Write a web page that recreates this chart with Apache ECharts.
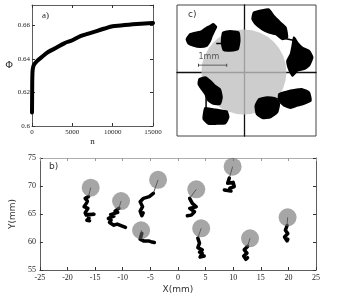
<!DOCTYPE html>
<html><head><meta charset="utf-8">
<script src="https://cdn.jsdelivr.net/npm/echarts@6/dist/echarts.min.js"></script>
<style>html,body{margin:0;padding:0;background:#fff}#c{width:337px;height:296px}</style>
</head><body><div id="c"></div>
<script>
// Panel a: packing fraction vs n
const aN   = [0, 30, 60, 100, 200, 400, 700, 1200, 2000, 3000, 4000, 5000, 6000, 7000, 8000, 9000, 10000, 11000, 12000, 13000, 14000, 15000];
const aPhi = [0.608, 0.626, 0.632, 0.634, 0.636, 0.6375, 0.639, 0.641, 0.644, 0.6465, 0.6492, 0.651, 0.6535, 0.655, 0.6565, 0.658, 0.6594, 0.6598, 0.6603, 0.6607, 0.661, 0.6613];

// Panel b: disc positions (mm) and trajectories
const bCircles = [[-15.8,69.7],[-10.3,67.3],[-3.6,71.1],[-6.67,62.1],[3.32,69.4],[4.21,62.45],[9.9,73.45],[13.05,60.66],[19.86,64.4]];
const bTrack1 = [[-16.2,68.1],[-16.8,67.8],[-16.4,67.3],[-16.6,66.9],[-17.0,66.3],[-16.3,66.0],[-16.4,65.7],[-16.8,65.2],[-16.6,64.8],[-15.2,64.95],[-16.3,64.9],[-16.1,64.2],[-16.5,63.9],[-16.4,63.6],[-16.0,63.8]];
const bTrack2 = [[-10.7,66.0],[-11.4,65.5],[-10.9,65.3],[-12.2,64.9],[-11.6,64.6],[-12.6,64.2],[-12.1,63.9],[-12.4,63.5],[-11.6,63.0],[-11.0,63.2],[-10.7,62.9],[-9.5,62.6]];
const bTrack3 = [[-4.45,68.7],[-5.2,68.1],[-6.24,67.8],[-6.85,67.2],[-6.4,66.3],[-6.85,65.5],[-6.54,64.7],[-6.3,65.2]];
const bTrack4 = [[-6.54,61.55],[-6.2,61.2],[-6.85,60.5],[-6.24,60.2],[-5.34,60.2],[-4.9,60.05],[-4.27,59.9]];
const bTrack5 = [[2.12,67.8],[2.6,66.9],[3.32,66.3],[2.12,66.0],[3.0,65.4],[2.42,64.8],[1.7,64.7]];
const bTrack6 = [[3.6,60.7],[3.9,59.8],[3.6,59.0],[4.4,58.6],[3.9,58.2],[4.4,58.0],[4.0,57.3],[4.75,57.5]];
const bTrack7 = [[9.3,71.4],[9.0,70.5],[10.0,70.65],[10.2,69.9],[9.4,69.6],[9.6,69.1],[8.4,69.3]];
const bTrack8 = [[12.6,59.2],[12.0,58.6],[12.5,58.0],[11.9,57.5],[12.3,56.9],[12.6,57.2]];
const bTrack9 = [[19.75,62.9],[19.45,62.1],[19.9,61.5],[19.3,60.9],[19.75,60.2],[19.9,60.5]];
const bTracks = [bTrack1,bTrack2,bTrack3,bTrack4,bTrack5,bTrack6,bTrack7,bTrack8,bTrack9];

// Panel c: trajectory clouds around a disc (mm, centred on the cross) — outlines
const cDisc = [[0, 0]];
const cScaleBar = [[-1.56,0.24],[-0.59,0.24]];
const cScaleLabelPos = [[-1.56,0.52]];
const cBlobA1 = [[-1.97,1.14],[-1.85,1.31],[-1.62,1.37],[-1.45,1.42],[-1.28,1.54],[-1.16,1.60],[-1.05,1.66],[-0.95,1.56],[-1.02,1.42],[-1.10,1.25],[-1.16,1.08],[-1.28,0.91],[-1.51,0.87],[-1.73,0.91],[-1.91,0.99]];
const cBlobA2 = [[-0.72,1.37],[-0.47,1.42],[-0.18,1.37],[-0.15,1.08],[-0.21,0.79],[-0.47,0.74],[-0.70,0.76],[-0.76,1.02]];
const cBlobB1 = [[0.34,2.06],[0.63,2.14],[0.86,2.17],[1.03,1.94],[1.26,1.71],[1.44,1.54],[1.49,1.20],[1.32,1.14],[1.09,1.31],[0.86,1.37],[0.63,1.48],[0.40,1.66],[0.29,1.83]];
const cBlobB2 = [[1.72,1.20],[1.84,1.02],[2.01,0.85],[2.24,0.74],[2.36,0.51],[2.24,0.22],[2.07,0.10],[1.84,0.05],[1.67,-0.13],[1.55,0.10],[1.49,0.39],[1.61,0.62],[1.67,0.91]];
const cBlobC1 = [[-1.53,-0.24],[-1.33,-0.18],[-1.16,-0.30],[-0.99,-0.47],[-0.82,-0.59],[-0.76,-0.87],[-0.82,-1.10],[-1.05,-1.10],[-1.22,-0.99],[-1.33,-0.76],[-1.45,-0.59],[-1.56,-0.41]];
const cBlobC2 = [[-1.33,-1.24],[-1.10,-1.28],[-0.87,-1.31],[-0.59,-1.36],[-0.53,-1.56],[-0.64,-1.77],[-0.93,-1.79],[-1.22,-1.79],[-1.39,-1.62],[-1.37,-1.39]];
const cBlobD1 = [[0.52,-0.93],[0.80,-0.87],[1.09,-0.91],[1.21,-1.10],[1.15,-1.39],[0.92,-1.56],[0.63,-1.59],[0.44,-1.45],[0.40,-1.16]];
const cBlobD2 = [[1.21,-0.76],[1.49,-0.67],[1.72,-0.62],[2.01,-0.59],[2.24,-0.70],[2.30,-0.99],[2.07,-1.10],[1.84,-1.16],[1.61,-1.24],[1.38,-1.16],[1.21,-0.99]];
const cBlobs = [cBlobA1,cBlobA2,cBlobB1,cBlobB2,cBlobC1,cBlobC2,cBlobD1,cBlobD2];
// thin links between neighbouring clouds
const cLinks = [[[-0.95,0.99],[-0.72,0.99]], [[1.40,1.16],[1.70,1.10]], [[-1.30,-0.80],[-1.30,-1.25]], [[1.10,-0.95],[1.30,-0.85]]];

const serif = 'Liberation Serif';
const axCol = '#333';
const plain = v => String(v);
function mirrorX(gi, min, max, interval, col){
  return {gridIndex:gi, type:'value', position:'top', min, max, interval,
    axisLine:{show:true, onZero:false, lineStyle:{color:col||axCol, width:0.8}},
    axisTick:{show:true, inside:true, length:3, lineStyle:{color:col||axCol}},
    axisLabel:{show:false}, splitLine:{show:false}};
}
function mirrorY(gi, min, max, interval){
  return {gridIndex:gi, type:'value', position:'right', min, max, interval,
    axisLine:{show:true, onZero:false, lineStyle:{color:axCol, width:0.8}},
    axisTick:{show:true, inside:true, length:3, lineStyle:{color:axCol}},
    axisLabel:{show:false}, splitLine:{show:false}};
}

const series = [];
// a
series.push({type:'line', xAxisIndex:0, yAxisIndex:0, data:aN.map((n,i)=>[n,aPhi[i]]),
  showSymbol:false, smooth:0.3, lineStyle:{color:'#000', width:4, cap:'round', join:'round'}, silent:true});
// b tracks
bTracks.forEach((t,i)=>{
  series.push({type:'line', xAxisIndex:2, yAxisIndex:2, data:t, showSymbol:false,
    lineStyle:{color:'#000', width:3.5, join:'round', cap:'round'}, silent:true, z:2});
  series.push({type:'line', xAxisIndex:2, yAxisIndex:2, data:[bCircles[i], t[0]], showSymbol:false,
    lineStyle:{color:'#222', width:0.8}, silent:true, z:3});
});
series.push({type:'scatter', xAxisIndex:2, yAxisIndex:2, data:bCircles, symbolSize:18, clip:false,
  itemStyle:{color:'rgba(100,100,100,0.72)'}, silent:true, z:4});
// c
series.push({type:'scatter', xAxisIndex:4, yAxisIndex:4, data:cDisc, symbolSize:85,
  itemStyle:{color:'#c0c0c0'}, silent:true, z:1});
cBlobs.forEach(bl=>{
  series.push({type:'custom', xAxisIndex:4, yAxisIndex:4, data:bl, silent:true, z:3,
    renderItem:(params, api)=>{
      if (params.dataIndex !== 0) return null;
      const pts = bl.map(p=>api.coord(p));
      return {type:'polygon', shape:{points:pts, smooth:0.15},
        style:{fill:'#000', stroke:'#000', lineWidth:2, lineJoin:'round'}};
    }});
});
cLinks.forEach(l=>{
  series.push({type:'line', xAxisIndex:4, yAxisIndex:4, data:l, showSymbol:false,
    lineStyle:{color:'#000', width:1.5}, silent:true, z:3});
});
series.push({type:'line', xAxisIndex:4, yAxisIndex:4, data:cScaleBar, symbol:'rect', symbolSize:[1,3],
  itemStyle:{color:'#444'}, lineStyle:{color:'#444', width:0.8}, silent:true, z:4});
series.push({type:'scatter', xAxisIndex:4, yAxisIndex:4, data:cScaleLabelPos, symbolSize:0,
  label:{show:true, formatter:'1mm', position:'right', distance:0, color:'#333', fontSize:8, fontFamily:'DejaVu Sans'}, silent:true, z:4});

const option = {
  animation:false,
  backgroundColor:'#fff',
  grid:[
    {left:32, top:5, width:121, height:121},
    {left:37, top:158, width:279, height:112},
    {left:177, top:5, width:139, height:131, show:true, borderColor:'#444', borderWidth:1}
  ],
  xAxis:[
    {gridIndex:0, type:'value', min:0, max:15000, interval:5000, name:'n', nameLocation:'middle', nameGap:7,
      nameTextStyle:{fontFamily:serif, fontSize:9, color:'#222'},
      axisLine:{show:true, onZero:false, lineStyle:{color:axCol, width:0.8}},
      axisTick:{show:true, inside:true, length:3, lineStyle:{color:axCol}},
      axisLabel:{fontFamily:serif, fontSize:7, color:'#222', margin:3, formatter:plain},
      splitLine:{show:false}},
    mirrorX(0, 0, 15000, 5000),
    {gridIndex:1, type:'value', min:-25, max:25, interval:5, name:'X(mm)', nameLocation:'middle', nameGap:15,
      nameTextStyle:{fontFamily:'DejaVu Sans', fontSize:9, color:'#333'},
      axisLine:{show:true, onZero:false, lineStyle:{color:axCol, width:0.8}},
      axisTick:{show:true, inside:true, length:3, lineStyle:{color:axCol}},
      axisLabel:{fontFamily:serif, fontSize:8, color:'#222', margin:4, formatter:plain},
      splitLine:{show:false}},
    mirrorX(1, -25, 25, 5, '#999'),
    {gridIndex:2, type:'value', min:-2.30, max:2.48, show:true,
      axisLine:{show:true, onZero:true, lineStyle:{color:'#111', width:1.3}},
      axisTick:{show:false}, axisLabel:{show:false}, splitLine:{show:false}}
  ],
  yAxis:[
    {gridIndex:0, type:'value', min:0.6, max:0.672, interval:0.02, name:'Φ', nameLocation:'middle', nameGap:17, nameRotate:0,
      nameTextStyle:{fontFamily:serif, fontSize:10, color:'#222'},
      axisLine:{show:true, onZero:false, lineStyle:{color:axCol, width:0.8}},
      axisTick:{show:true, inside:true, length:3, lineStyle:{color:axCol}},
      axisLabel:{fontFamily:serif, fontSize:7, color:'#222', margin:2, showMaxLabel:false},
      splitLine:{show:false}},
    mirrorY(0, 0.6, 0.672, 0.02),
    {gridIndex:1, type:'value', min:55, max:75, interval:5, name:'Y(mm)', nameLocation:'middle', nameGap:17,
      nameTextStyle:{fontFamily:'DejaVu Sans', fontSize:9, color:'#333'},
      axisLine:{show:true, onZero:false, lineStyle:{color:axCol, width:0.8}},
      axisTick:{show:true, inside:true, length:3, lineStyle:{color:axCol}},
      axisLabel:{fontFamily:serif, fontSize:8, color:'#222', margin:4},
      splitLine:{show:false}},
    mirrorY(1, 55, 75, 5),
    {gridIndex:2, type:'value', min:-2.21, max:2.32, show:true,
      axisLine:{show:true, onZero:true, lineStyle:{color:'#111', width:1.3}},
      axisTick:{show:false}, axisLabel:{show:false}, splitLine:{show:false}}
  ],
  graphic:[
    {type:'text', left:42, top:11, style:{text:'a)', font:'9px "Liberation Serif"', fill:'#222'}},
    {type:'text', left:49, top:162, style:{text:'b)', font:'9px "DejaVu Sans"', fill:'#333'}},
    {type:'text', left:188, top:10, style:{text:'c)', font:'9px "DejaVu Sans"', fill:'#333'}}
  ],
  series
};
const chart = echarts.init(document.getElementById('c'), null, {renderer:'canvas'});
chart.setOption(option);
</script>
</body></html>
